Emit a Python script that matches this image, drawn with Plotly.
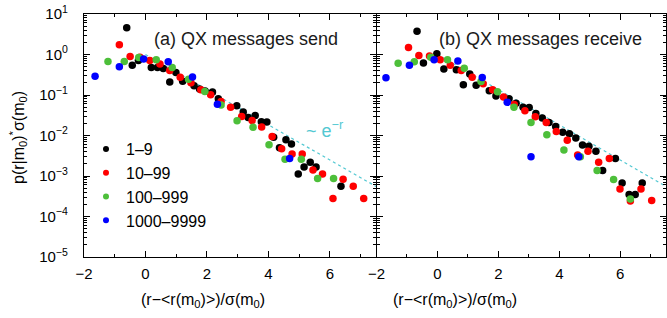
import numpy as np
import plotly.graph_objects as go

# ---------------- data ----------------
series_names = ["1–9", "10–99", "100–999", "1000–9999"]
series_colors = ["#000000", "#ff0000", "#4dbf3a", "#0000ff"]

# panel (a): QX messages send
a_black_x = [-0.61, -0.43, -0.23, 0.19, 0.39, 0.58, 0.79, 0.99, 1.21, 1.58, 1.76, 1.94, 2.18, 2.37,
             2.97, 3.18, 3.34, 3.57, 3.77, 3.95, 4.17, 4.36, 4.57, 4.75, 4.97, 5.16, 5.36, 5.55, 6.36]
a_black_y = [4.6, 0.54, 0.71, 0.48, 0.48, 0.45, 0.21, 0.36, 0.22, 0.17, 0.14, 0.125, 0.118, 0.081,
             0.054, 0.038, 0.028, 0.031, 0.022, 0.0215, 0.0091, 0.0050, 0.0079, 0.0062, 0.00112,
             0.00166, 0.0022, 0.00166, 0.00056]
a_red_x = [-0.85, -0.50, -0.18, 0.14, 0.47, 0.79, 1.13, 1.48, 1.80, 2.12, 2.46, 2.77, 3.13, 3.47,
           3.78, 4.12, 4.43, 4.77, 5.10, 5.45, 5.76, 6.10, 6.43, 6.76, 7.10]
a_red_y = [1.75, 0.89, 0.86, 0.71, 0.58, 0.40, 0.276, 0.20, 0.135, 0.102, 0.069, 0.050, 0.0296,
           0.0234, 0.0163, 0.0095, 0.0047, 0.0035, 0.0035, 0.0014, 0.00112, 0.00028, 0.00083,
           0.00056, 0.00028]
a_green_x = [-1.22, -0.69, -0.22, 0.35, 0.87, 1.40, 1.93, 2.46, 2.98, 3.50, 4.02, 4.54, 5.07, 5.60, 6.12]
a_green_y = [0.67, 0.67, 0.84, 0.74, 0.48, 0.245, 0.122, 0.057, 0.023, 0.016, 0.0059, 0.0026,
             0.0026, 0.00087, 0.00087]
a_blue_x = [-1.64, -0.85, -0.06, 0.74, 1.53, 2.34, 4.69]
a_blue_y = [0.29, 0.50, 0.77, 0.66, 0.28, 0.059, 0.0027]

# panel (b): QX messages receive
b_black_x = [-0.67, -0.46, -0.02, 0.21, 0.62, 0.85, 1.06, 1.27, 1.70, 1.92, 2.35, 2.58, 2.81, 3.01,
             3.23, 3.44, 3.66, 3.88, 4.11, 4.33, 4.54, 4.76, 4.97, 5.20, 5.42, 5.84, 6.06, 6.29,
             6.49, 6.72]
b_black_y = [3.75, 0.62, 1.05, 0.44, 0.42, 0.18, 0.33, 0.175, 0.127, 0.095, 0.081, 0.063, 0.050,
             0.049, 0.035, 0.027, 0.021, 0.0166, 0.012, 0.011, 0.0087, 0.0058, 0.0054, 0.0041,
             0.00137, 0.0027, 0.00067, 0.00035, 0.00035, 0.00067]
b_red_x = [-0.95, -0.61, -0.26, 0.09, 0.42, 0.78, 1.14, 1.50, 1.81, 2.17, 2.52, 2.87, 3.21, 3.57,
           3.90, 4.26, 4.60, 4.94, 5.29, 5.64, 5.99, 6.33, 6.68, 7.03]
b_red_y = [1.48, 0.94, 0.92, 0.74, 0.54, 0.40, 0.276, 0.189, 0.135, 0.089, 0.058, 0.041, 0.029,
           0.021, 0.0126, 0.0076, 0.0033, 0.0041, 0.0022, 0.0027, 0.00048, 0.00024, 0.00048, 0.00025]
b_green_x = [-1.29, -0.76, -0.22, 0.33, 0.88, 1.43, 1.97, 2.51, 3.07, 3.59, 4.15, 4.69, 5.24, 5.78, 6.33]
b_green_y = [0.61, 0.66, 0.86, 0.74, 0.46, 0.215, 0.12, 0.050, 0.021, 0.0104, 0.0044, 0.0030,
             0.00137, 0.00082, 0.00027]
b_blue_x = [-1.69, -0.92, -0.11, 0.67, 1.47, 2.29, 3.07, 4.64]
b_blue_y = [0.265, 0.54, 0.74, 0.69, 0.27, 0.066, 0.0030, 0.0030]

# reference curve ~ e^{-r}
guide_x = np.array([0.0, 7.5])

x_ticks = [-2, 0, 2, 4, 6]
y_tick_exps = [-5, -4, -3, -2, -1, 0, 1]

panel_titles = ["(a) QX messages send", "(b) QX messages receive"]
x_title = "(r−&lt;r(m<sub>0</sub>)&gt;)/σ(m<sub>0</sub>)"
y_title = "p(r|m<sub>0</sub>)<sup>*</sup>σ(m<sub>0</sub>)"

# ---------------- figure ----------------
W, H = 667, 318
FONT = "Liberation Sans, Arial, Helvetica, sans-serif"
fig = go.Figure()

panels = [
    ("x", "y", [(a_black_x, a_black_y), (a_red_x, a_red_y), (a_green_x, a_green_y), (a_blue_x, a_blue_y)]),
    ("x2", "y2", [(b_black_x, b_black_y), (b_red_x, b_red_y), (b_green_x, b_green_y), (b_blue_x, b_blue_y)]),
]
guide_color = "#52c8d2"
for xa, ya, data in panels:
    fig.add_trace(go.Scatter(x=guide_x, y=np.exp(-guide_x), mode="lines", xaxis=xa, yaxis=ya,
                             line=dict(color=guide_color, width=1.2, dash="dot"),
                             showlegend=False, hoverinfo="skip"))
    for (xs, ys), name, col in zip(data, series_names, series_colors):
        fig.add_trace(go.Scatter(x=xs, y=ys, mode="markers", xaxis=xa, yaxis=ya, name=name,
                                 marker=dict(color=col, size=7.5, line=dict(width=0)),
                                 showlegend=False))

# legend entries (smaller symbols, as in reference)
for name, col in zip(series_names, series_colors):
    fig.add_trace(go.Scatter(x=[None], y=[None], mode="markers", name=name,
                             marker=dict(color=col, size=6), showlegend=True))

x_dom = [[84 / W, 376 / W], [376.5 / W, 666 / W]]
y_dom = [(H - 257) / H, (H - 14) / H]

axis_common = dict(showline=True, linecolor="black", linewidth=1.3, mirror="ticks",
                   ticks="inside", tickcolor="black", ticklen=6, tickwidth=1,
                   showgrid=False, zeroline=False, automargin=False)

def xaxis(dom, anchor):
    return dict(domain=dom, anchor=anchor, range=[-2, 7.5], tickmode="array", tickvals=x_ticks,
                ticktext=[("−" + str(-t)) if t < 0 else str(t) for t in x_ticks],
                tickfont=dict(size=15, family=FONT, color="black"), ticklabelstandoff=3,
                minor=dict(tickmode="array", tickvals=[-1, 1, 3, 5, 7], ticks="inside",
                           ticklen=3, tickcolor="black"),
                **axis_common)

minor_y = [m * 10.0 ** e for e in range(-5, 1) for m in range(2, 10)]

def yaxis(anchor, labels):
    return dict(domain=y_dom, anchor=anchor, type="log", range=[-5, 1], tickmode="array",
                tickvals=[10.0 ** e for e in y_tick_exps],
                ticktext=["10<sup>" + (("−" + str(-e)) if e < 0 else str(e)) + "</sup>" for e in y_tick_exps],
                showticklabels=labels, tickfont=dict(size=15, family=FONT, color="black"),
                ticklabelstandoff=12,
                minor=dict(tickmode="array", tickvals=minor_y, ticks="inside", ticklen=3,
                           tickcolor="black"),
                **axis_common)

fig.update_layout(
    width=W, height=H, margin=dict(l=0, r=0, t=0, b=0, autoexpand=False),
    paper_bgcolor="white", plot_bgcolor="white",
    font=dict(family=FONT, color="black"),
    xaxis=xaxis(x_dom[0], "y"), xaxis2=xaxis(x_dom[1], "y2"),
    yaxis=yaxis("x", True), yaxis2=yaxis("x2", False),
    legend=dict(x=86 / W, y=(H - 132) / H, xanchor="left", yanchor="top",
                bgcolor="rgba(0,0,0,0)", font=dict(size=16, family=FONT, color="black"),
                itemwidth=30, tracegroupgap=0),
    showlegend=True,
)

ann = [
    dict(text=panel_titles[0], x=246 / W, y=(H - 39) / H, font=dict(size=18, color="#1a1a1a")),
    dict(text=panel_titles[1], x=540 / W, y=(H - 39) / H, font=dict(size=18, color="#1a1a1a")),
    dict(text=x_title, x=203 / W, y=(H - 300) / H, font=dict(size=16)),
    dict(text=x_title, x=455 / W, y=(H - 300) / H, font=dict(size=16)),
    dict(text=y_title, x=18 / W, y=(H - 138) / H, font=dict(size=16), textangle=-90),
    dict(text="~ e<sup>−r</sup>", x=324 / W, y=(H - 129) / H, font=dict(size=18, color=guide_color)),
]
for a in ann:
    a.update(xref="paper", yref="paper", showarrow=False, xanchor="center", yanchor="middle")
    a["font"]["family"] = FONT
    a["font"].setdefault("color", "black")
fig.update_layout(annotations=ann)

# remove the browser's default 8px page margin so the figure sits at the window origin
fig.write_html("out.html", config={"displayModeBar": False},
               post_script="document.body.style.margin='0';")
